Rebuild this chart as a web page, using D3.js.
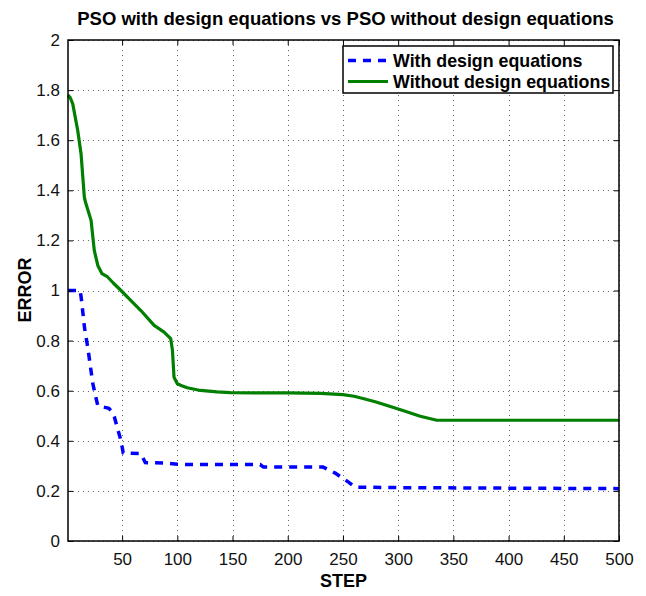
<!DOCTYPE html>
<html><head><meta charset="utf-8">
<script src="https://cdn.jsdelivr.net/npm/d3@7"></script>
<style>body{margin:0;background:#fff;} svg{display:block;}</style>
</head><body>
<script>
const title = "PSO with design equations vs PSO without design equations";
const xLabel = "STEP";
const yLabel = "ERROR";
const seriesNames = ["With design equations", "Without design equations"];
const xTicks = [50,100,150,200,250,300,350,400,450,500];
const yTicks = [0,0.2,0.4,0.6,0.8,1,1.2,1.4,1.6,1.8,2];

const withX = [1,12,13,16,19,23.4,26.4,28,38,40,43,49,51,67,71,90,100,150,175,178,232,243,255,261,300,500];
const withY = [1.0,1.0,0.97,0.85,0.77,0.63,0.57,0.54,0.53,0.52,0.495,0.40,0.352,0.349,0.313,0.311,0.306,0.305,0.305,0.295,0.295,0.271,0.235,0.215,0.213,0.209];

const withoutX = [1,3,5.3,9.8,12.8,15.8,17,21.9,24.8,28,31.8,36.9,42,49,58,67,79,88,94,95.6,97,100,104,109,121,136,148,200,230,250,260,269,280,290,305,320,335,400,500];
const withoutY = [1.78,1.77,1.745,1.639,1.546,1.373,1.35,1.28,1.16,1.10,1.067,1.054,1.03,1.0,0.96,0.92,0.861,0.834,0.808,0.761,0.654,0.628,0.62,0.612,0.601,0.595,0.592,0.591,0.589,0.584,0.578,0.568,0.555,0.541,0.52,0.498,0.482,0.482,0.482];

const W = 646, H = 596;
const m = {left:68, right:27, top:40, bottom:55};
const svg = d3.select("body").append("svg").attr("width",W).attr("height",H);
const x = d3.scaleLinear().domain([1,500]).range([m.left, W-m.right]);
const y = d3.scaleLinear().domain([0,2]).range([H-m.bottom, m.top]);
const font = "'Liberation Sans', Arial, Helvetica, sans-serif";

// grid
const grid = svg.append("g").attr("stroke","#666").attr("stroke-width",1).attr("stroke-dasharray","1,4");
xTicks.forEach(t => grid.append("line").attr("x1",Math.round(x(t))+0.5).attr("x2",Math.round(x(t))+0.5).attr("y1",y(0)).attr("y2",y(2)));
yTicks.forEach(t => grid.append("line").attr("y1",Math.round(y(t))+0.5).attr("y2",Math.round(y(t))+0.5).attr("x1",x(1)).attr("x2",x(500)));

// lines
const line = d3.line().x(d=>x(d[0])).y(d=>y(d[1]));
svg.append("path").datum(withoutX.map((v,i)=>[v,withoutY[i]]))
  .attr("d",line).attr("fill","none").attr("stroke","#007f00").attr("stroke-width",3.2).attr("stroke-linejoin","round");
svg.append("path").datum(withX.map((v,i)=>[v,withY[i]]))
  .attr("d",line).attr("fill","none").attr("stroke","#0000ff").attr("stroke-width",3.5).attr("stroke-dasharray","8,7");

// axes
const xAxis = d3.axisBottom(x).tickValues(xTicks).tickSizeInner(-5).tickSizeOuter(0).tickPadding(12).tickFormat(d3.format("d"));
const yAxis = d3.axisLeft(y).tickValues(yTicks).tickSizeInner(-5).tickSizeOuter(0).tickPadding(8).tickFormat(d=>String(+d.toFixed(1)));
const gx = svg.append("g").attr("transform",`translate(0,${y(0)})`).call(xAxis);
const gy = svg.append("g").attr("transform",`translate(${x(1)},0)`).call(yAxis);
// top & right ticks
svg.append("g").attr("transform",`translate(0,${y(2)})`).call(d3.axisTop(x).tickValues(xTicks).tickSizeInner(-5).tickSizeOuter(0).tickFormat(""));
svg.append("g").attr("transform",`translate(${x(500)},0)`).call(d3.axisRight(y).tickValues(yTicks).tickSizeInner(-5).tickSizeOuter(0).tickFormat(""));
svg.selectAll(".domain").remove();
svg.selectAll(".tick line").attr("stroke","#000");
[gx,gy].forEach(g=>g.selectAll("text").attr("font-family",font).attr("font-size",17).attr("fill","#111"));

// box
svg.append("rect").attr("x",x(1)).attr("y",y(2)).attr("width",x(500)-x(1)).attr("height",y(0)-y(2))
  .attr("fill","none").attr("stroke","#000").attr("stroke-width",1.5);

// title & labels
svg.append("text").attr("x",(x(1)+x(500))/2 + 2).attr("y",25).attr("text-anchor","middle")
  .attr("font-family",font).attr("font-weight","bold").attr("font-size",18.5).text(title);
svg.append("text").attr("x",(x(1)+x(500))/2).attr("y",587).attr("text-anchor","middle")
  .attr("font-family",font).attr("font-weight","bold").attr("font-size",18).text(xLabel);
svg.append("text").attr("transform",`translate(31,290) rotate(-90)`).attr("text-anchor","middle")
  .attr("font-family",font).attr("font-weight","bold").attr("font-size",18).text(yLabel);

// legend
const lg = svg.append("g");
lg.append("rect").attr("x",343).attr("y",46).attr("width",270).attr("height",47)
  .attr("fill","#fff").attr("stroke","#000").attr("stroke-width",1.5);
const colors = ["#0000ff","#007f00"];
seriesNames.forEach((n,i)=>{
  const ly = 60.5 + i*21;
  lg.append("line").attr("x1",348).attr("x2",388).attr("y1",ly).attr("y2",ly)
    .attr("stroke",colors[i]).attr("stroke-width",i===0?3.5:3.2).attr("stroke-dasharray",i===0?"8,7":null);
  lg.append("text").attr("x",393).attr("y",ly+6).attr("font-family",font).attr("font-weight","bold")
    .attr("font-size",17.8).text(n);
});
</script>
</body></html>
